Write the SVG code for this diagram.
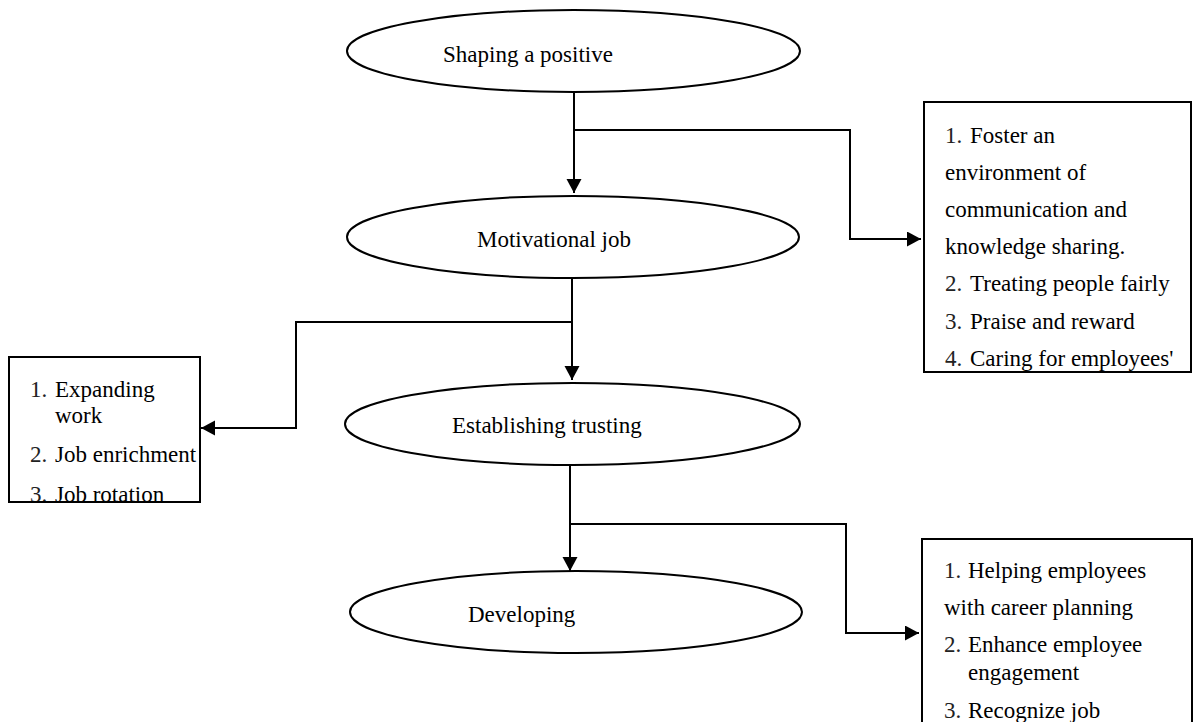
<svg xmlns="http://www.w3.org/2000/svg" width="1194" height="722" viewBox="0 0 1194 722">
<defs>
<style>
.node{fill:#fff;stroke:#000;stroke-width:2}
.t{font-family:"Liberation Serif","Times New Roman",serif;font-size:23px;fill:#000}
.n{font-family:"Liberation Serif","Times New Roman",serif;font-size:23px;fill:#222}
.c{fill:none;stroke:#000;stroke-width:2}
</style>
<marker id="ah" markerUnits="userSpaceOnUse" markerWidth="15" markerHeight="16" refX="14" refY="7.5" orient="auto">
<path d="M0,0 L14,7.5 L0,15 z" fill="#000"/>
</marker>
<clipPath id="clipB2"><rect x="9" y="357" width="191" height="145"/></clipPath>
</defs>
<rect width="1194" height="722" fill="#fff"/>

<g id="connectors">
<path class="c" d="M574,92 V193" marker-end="url(#ah)"/>
<path class="c" d="M574,130 H850 V239 H921" marker-end="url(#ah)"/>
<path class="c" d="M572,278 V380" marker-end="url(#ah)"/>
<path class="c" d="M572,322 H296 V428 H201" marker-end="url(#ah)"/>
<path class="c" d="M570,465 V571" marker-end="url(#ah)"/>
<path class="c" d="M570,524 H846 V633 H919" marker-end="url(#ah)"/>
</g>

<g id="n1">
<ellipse class="node" cx="573.5" cy="51" rx="226.5" ry="41"/>
<text class="t" x="443" y="62">Shaping a positive</text>
</g>
<g id="n2">
<ellipse class="node" cx="573" cy="237" rx="226" ry="41"/>
<text class="t" x="477" y="247">Motivational job</text>
</g>
<g id="n3">
<ellipse class="node" cx="572.5" cy="424" rx="227.5" ry="41"/>
<text class="t" x="452" y="433">Establishing trusting</text>
</g>
<g id="n4">
<ellipse class="node" cx="576" cy="612" rx="226" ry="41"/>
<text class="t" x="468" y="622">Developing</text>
</g>

<g id="box1">
<rect class="node" x="924" y="102" width="267" height="270"/>
<text class="n" x="945" y="143">1.</text><text class="t" x="970" y="143">Foster an</text>
<text class="t" x="945" y="180">environment of</text>
<text class="t" x="945" y="217">communication and</text>
<text class="t" x="945" y="254">knowledge sharing.</text>
<text class="n" x="945" y="291">2.</text><text class="t" x="970" y="291">Treating people fairly</text>
<text class="n" x="945" y="329">3.</text><text class="t" x="970" y="329">Praise and reward</text>
<text class="n" x="945" y="366">4.</text><text class="t" x="970" y="366">Caring for employees'</text>
</g>

<g id="box2">
<rect x="9" y="357" width="191" height="145" fill="#fff"/>
<g clip-path="url(#clipB2)">
<text class="n" x="30" y="397">1.</text><text class="t" x="55" y="397">Expanding</text>
<text class="t" x="55" y="423">work</text>
<text class="n" x="30" y="462">2.</text><text class="t" x="55" y="462">Job enrichment</text>
<text class="n" x="30" y="502">3.</text><text class="t" x="55" y="502">Job rotation</text>
</g>
<rect x="9" y="357" width="191" height="145" fill="none" stroke="#000" stroke-width="2"/>
</g>

<g id="box3">
<rect class="node" x="922" y="539" width="270" height="200"/>
<text class="n" x="944" y="578">1.</text><text class="t" x="968" y="578">Helping employees</text>
<text class="t" x="944" y="615">with career planning</text>
<text class="n" x="944" y="652">2.</text><text class="t" x="968" y="652">Enhance employee</text>
<text class="t" x="968" y="680">engagement</text>
<text class="n" x="944" y="718">3.</text><text class="t" x="968" y="718">Recognize job</text>
</g>
</svg>
